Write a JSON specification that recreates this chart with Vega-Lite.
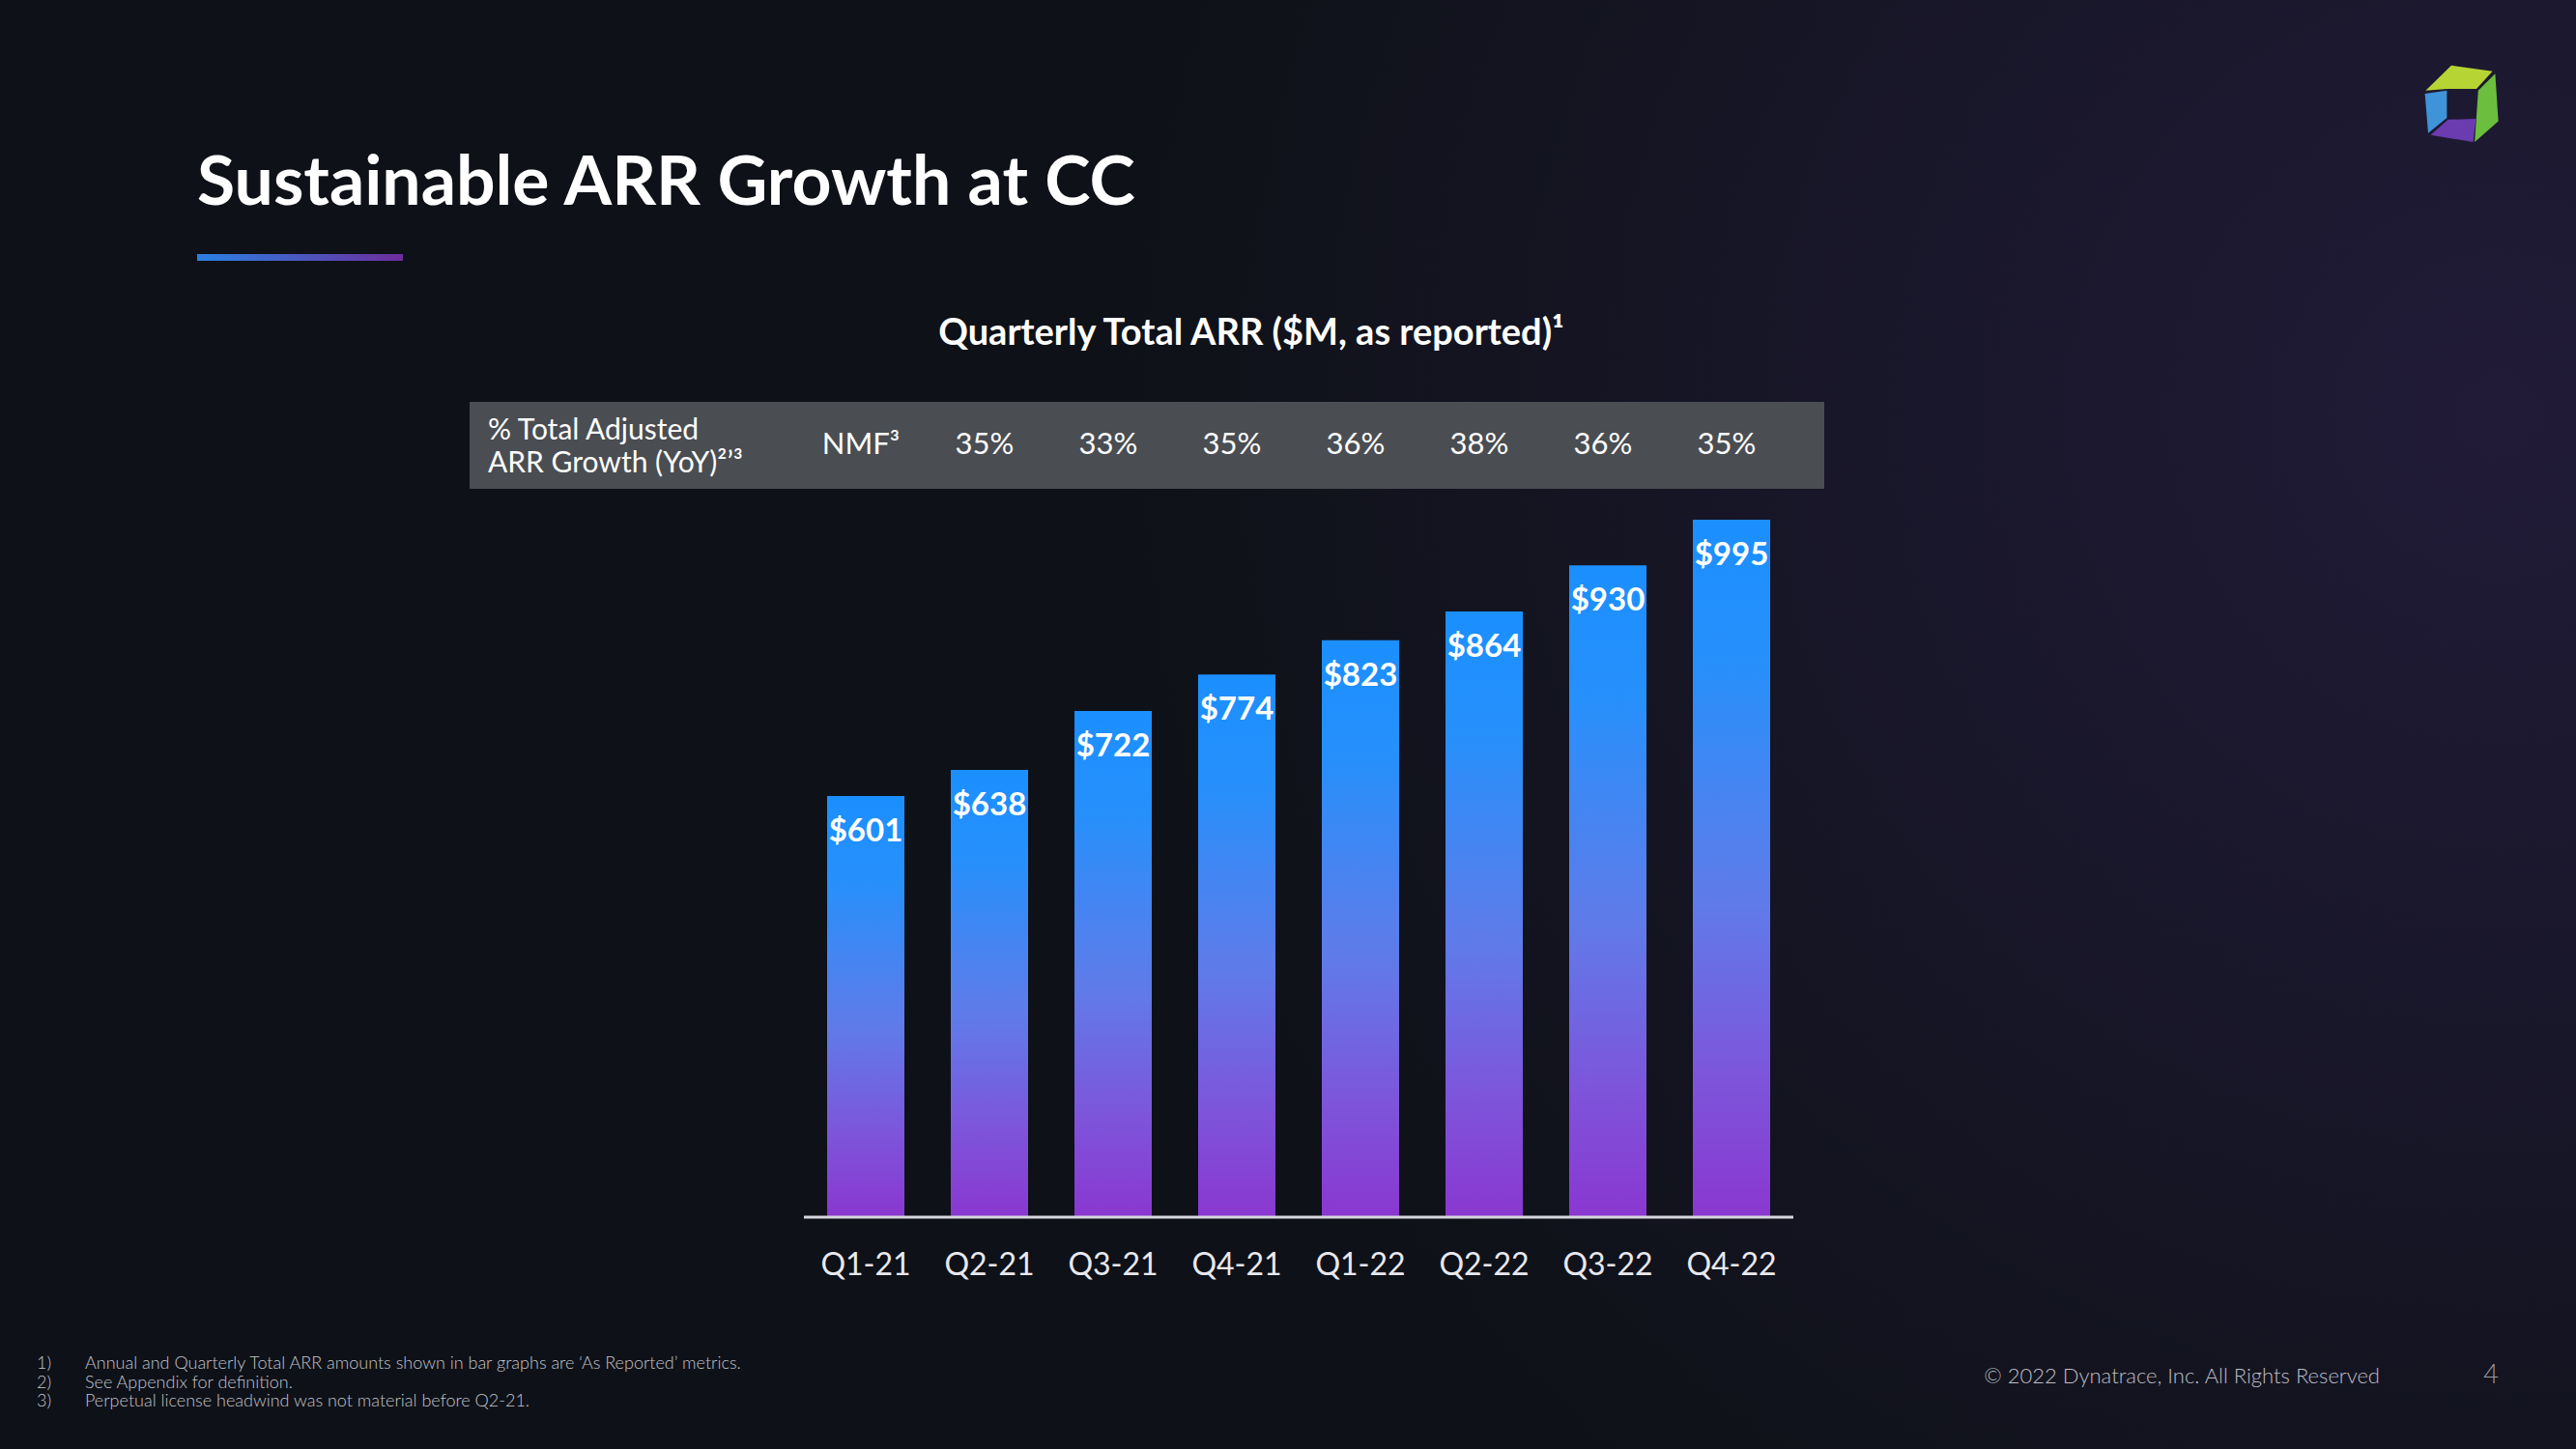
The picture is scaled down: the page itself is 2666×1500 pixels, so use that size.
{
  "$schema": "https://vega.github.io/schema/vega-lite/v6.json",
  "width": 2666,
  "height": 1500,
  "autosize": {"type": "none"},
  "padding": 0,
  "background": "#0e1117",
  "config": {
    "view": {"stroke": null, "fill": {"gradient": "radial", "x1": 0.97, "y1": 0.38, "r1": 0, "x2": 0.97, "y2": 0.38, "r2": 0.55, "stops": [{"offset": 0, "color": "#211b38"}, {"offset": 1, "color": "#0e1117"}]}},
    "text": {"font": "Lato"}
  },
  "data": {"values": [
    {"quarter": "Q1-21", "arr": 601, "growth": "NMF³"},
    {"quarter": "Q2-21", "arr": 638, "growth": "35%"},
    {"quarter": "Q3-21", "arr": 722, "growth": "33%"},
    {"quarter": "Q4-21", "arr": 774, "growth": "35%"},
    {"quarter": "Q1-22", "arr": 823, "growth": "36%"},
    {"quarter": "Q2-22", "arr": 864, "growth": "38%"},
    {"quarter": "Q3-22", "arr": 930, "growth": "36%"},
    {"quarter": "Q4-22", "arr": 995, "growth": "35%"}
  ]},
  "layer": [
    {
      "mark": {"type": "bar", "color": {"gradient": "linear", "x1": 0, "y1": 0, "x2": 0, "y2": 1, "stops": [{"offset": 0, "color": "#1b8fff"}, {"offset": 0.2, "color": "#2690fb"}, {"offset": 0.55, "color": "#607be9"}, {"offset": 0.8, "color": "#7d55db"}, {"offset": 1, "color": "#8a37d0"}]}},
      "encoding": {
        "x": {"field": "quarter", "type": "nominal", "sort": null, "axis": null,
              "scale": {"type": "band", "domain": ["Q1-21","Q2-21","Q3-21","Q4-21","Q1-22","Q2-22","Q3-22","Q4-22"], "range": [832, 1856], "paddingInner": 0.375, "paddingOuter": 0.1875, "round": false}},
        "y": {"field": "arr", "type": "quantitative", "axis": null, "scale": {"domain": [-330.75, 1736.4], "nice": false, "zero": false}}
      }
    },
    {
      "mark": {"type": "text", "font": "Lato", "fontWeight": "bold", "fontSize": 33, "color": "#ffffff", "baseline": "alphabetic", "dy": 47},
      "encoding": {
        "x": {"field": "quarter", "type": "nominal"},
        "y": {"field": "arr", "type": "quantitative"},
        "text": {"field": "arr", "type": "quantitative", "format": "$d"}
      }
    },
    {
      "data": {"values": [{}]},
      "mark": {"type": "rect", "color": "#4a4d52"},
      "encoding": {
        "x": {"datum": "Q1-21", "bandPosition": -4.625},
        "x2": {"datum": "Q4-22", "bandPosition": 1.7},
        "y": {"datum": 1163.1},
        "y2": {"datum": 1039.1}
      }
    },
    {
      "mark": {"type": "text", "fontSize": 31, "color": "#ffffff", "baseline": "alphabetic", "dx": -5},
      "encoding": {
        "x": {"field": "quarter", "type": "nominal"},
        "y": {"datum": 1088.7},
        "text": {"field": "growth"}
      }
    },
    {
      "mark": {"type": "text", "fontSize": 32, "color": "#e8e8ee", "baseline": "alphabetic"},
      "encoding": {
        "x": {"field": "quarter", "type": "nominal"},
        "y": {"datum": -82.7},
        "text": {"field": "quarter"}
      }
    },
    {
      "data": {"values": [{}]},
      "mark": {"type": "rule", "color": "#d6d6de", "strokeWidth": 3},
      "encoding": {
        "x": {"datum": "Q1-21", "bandPosition": -0.3},
        "x2": {"datum": "Q4-22", "bandPosition": 1.3},
        "y": {"datum": 0}
      }
    },
    {
      "data": {"values": [{"t": ["% Total Adjusted", "ARR Growth (YoY)²ʼ³"]}]},
      "mark": {"type": "text", "fontSize": 30, "color": "#ffffff", "align": "left", "baseline": "alphabetic", "lineHeight": 34},
      "encoding": {
        "x": {"datum": "Q1-21", "bandPosition": -4.3875},
        "y": {"datum": 1109.4},
        "text": {"field": "t"}
      }
    },
    {
      "data": {"values": [{"t": "Sustainable ARR Growth at CC"}]},
      "mark": {"type": "text", "fontSize": 71.5, "fontWeight": "bold", "color": "#ffffff", "align": "left", "baseline": "alphabetic"},
      "encoding": {
        "x": {"datum": "Q1-21", "bandPosition": -8.15},
        "y": {"datum": 1444.3},
        "text": {"field": "t"}
      }
    },
    {
      "data": {"values": [{}]},
      "mark": {"type": "rect", "color": {"gradient": "linear", "x1": 0, "y1": 0, "x2": 1, "y2": 0, "stops": [{"offset": 0, "color": "#2a80e2"}, {"offset": 1, "color": "#6c2e9c"}]}},
      "encoding": {
        "x": {"datum": "Q1-21", "bandPosition": -8.15},
        "x2": {"datum": "Q1-21", "bandPosition": -5.4875},
        "y": {"datum": 1374.0},
        "y2": {"datum": 1364.3}
      }
    },
    {
      "data": {"values": [{"t": "Quarterly Total ARR ($M, as reported)¹"}]},
      "mark": {"type": "text", "fontSize": 38, "fontWeight": "bold", "color": "#ffffff", "align": "center", "baseline": "alphabetic"},
      "encoding": {
        "x": {"datum": "Q1-21", "bandPosition": 5.4875},
        "y": {"datum": 1244.4},
        "text": {"field": "t"}
      }
    },
    {
      "data": {"values": [{"t": ["1)", "2)", "3)"]}]},
      "mark": {"type": "text", "fontSize": 18, "fontWeight": 300, "color": "#c4c4cc", "align": "left", "baseline": "alphabetic", "lineHeight": 19.7},
      "encoding": {
        "x": {"datum": "Q1-21", "bandPosition": -10.225},
        "y": {"datum": -216.4},
        "text": {"field": "t"}
      }
    },
    {
      "data": {"values": [{"t": ["Annual and Quarterly Total ARR amounts shown in bar graphs are ‘As Reported’ metrics.", "See Appendix for definition.", "Perpetual license headwind was not material before Q2-21."]}]},
      "mark": {"type": "text", "fontSize": 18, "fontWeight": 300, "color": "#c4c4cc", "align": "left", "baseline": "alphabetic", "lineHeight": 19.7},
      "encoding": {
        "x": {"datum": "Q1-21", "bandPosition": -9.6},
        "y": {"datum": -216.4},
        "text": {"field": "t"}
      }
    },
    {
      "data": {"values": [{"t": "© 2022 Dynatrace, Inc. All Rights Reserved"}]},
      "mark": {"type": "text", "fontSize": 22, "fontWeight": 300, "color": "#bdbdc5", "align": "right", "baseline": "alphabetic"},
      "encoding": {
        "x": {"datum": "Q1-21", "bandPosition": 20.0875},
        "y": {"datum": -237.0},
        "text": {"field": "t"}
      }
    },
    {
      "data": {"values": [{"t": "4"}]},
      "mark": {"type": "text", "fontSize": 27, "fontWeight": 300, "color": "#9c9ca4", "align": "center", "baseline": "alphabetic"},
      "encoding": {
        "x": {"datum": "Q1-21", "bandPosition": 21.525},
        "y": {"datum": -237.0},
        "text": {"field": "t"}
      }
    },
    {
      "data": {"values": [{}]},
      "mark": {"type": "point", "filled": true, "opacity": 1, "size": 6400, "color": "#b6d433", "strokeWidth": 0, "shape": "M-0.94,-0.33 L-0.275,-0.98 L0.79,-0.83 L0.375,-0.375 L-0.375,-0.375 Z"},
      "encoding": {"x": {"datum": "Q1-21", "bandPosition": 21.15}, "y": {"datum": 1588.9}}
    },
    {
      "data": {"values": [{}]},
      "mark": {"type": "point", "filled": true, "opacity": 1, "size": 6400, "color": "#6cbf3e", "strokeWidth": 0, "shape": "M0.42,-0.33 L0.86,-0.77 L0.94,0.46 L0.33,1.0 Z"},
      "encoding": {"x": {"datum": "Q1-21", "bandPosition": 21.15}, "y": {"datum": 1588.9}}
    },
    {
      "data": {"values": [{}]},
      "mark": {"type": "point", "filled": true, "opacity": 1, "size": 6400, "color": "#3f93d8", "strokeWidth": 0, "shape": "M-0.96,-0.25 L-0.39,-0.33 L-0.39,0.375 L-0.875,0.77 Z"},
      "encoding": {"x": {"datum": "Q1-21", "bandPosition": 21.15}, "y": {"datum": 1588.9}}
    },
    {
      "data": {"values": [{}]},
      "mark": {"type": "point", "filled": true, "opacity": 1, "size": 6400, "color": "#6b3bb0", "strokeWidth": 0, "shape": "M-0.81,0.82 L-0.36,0.42 L0.36,0.40 L0.29,1.0 Z"},
      "encoding": {"x": {"datum": "Q1-21", "bandPosition": 21.15}, "y": {"datum": 1588.9}}
    }
  ]
}
